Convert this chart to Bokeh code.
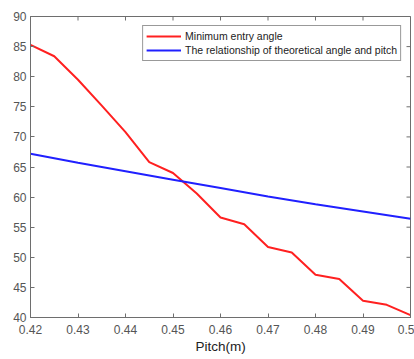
import math
from bokeh.plotting import figure
from bokeh.models import FixedTicker, Range1d, Legend, LegendItem
from bokeh.embed import file_html
from bokeh.resources import INLINE

# ---- data ----
pitch = [0.42, 0.425, 0.43, 0.435, 0.44, 0.445, 0.45, 0.455, 0.46, 0.465,
         0.47, 0.475, 0.48, 0.485, 0.49, 0.495, 0.50]
min_entry_angle = [85.3, 83.4, 79.5, 75.2, 70.8, 65.8, 64.0, 60.6, 56.6, 55.5,
                   51.7, 50.8, 47.1, 46.4, 42.8, 42.1, 40.4]
theory_pitch = [0.42, 0.43, 0.44, 0.45, 0.46, 0.47, 0.48, 0.49, 0.50]
theory_angle = [67.2, 65.7, 64.3, 62.9, 61.5, 60.1, 58.8, 57.6, 56.4]

x_ticks = [0.42, 0.43, 0.44, 0.45, 0.46, 0.47, 0.48, 0.49, 0.50]
x_tick_labels = ["0.42", "0.43", "0.44", "0.45", "0.46", "0.47", "0.48", "0.49", "0.5"]
y_ticks = [40, 45, 50, 55, 60, 65, 70, 75, 80, 85, 90]

label_red = "Minimum entry angle"
label_blue = "The relationship of theoretical angle and pitch"
x_label = "Pitch(m)"

FONT = "Liberation Sans"
AX = "#6e6e6e"
X0, X1 = x_ticks[0], x_ticks[-1]
Y0, Y1 = y_ticks[0], y_ticks[-1]

p = figure(width=414, height=359, output_backend="svg", toolbar_location=None,
           x_range=Range1d(X0, X1), y_range=Range1d(Y0, Y1),
           min_border_left=30, min_border_top=16, min_border_right=4,
           min_border_bottom=42)
p.background_fill_color = "white"
p.border_fill_color = "white"
p.outline_line_color = AX
p.outline_line_width = 1
p.xgrid.visible = False
p.ygrid.visible = False

r1 = p.line(pitch, min_entry_angle, line_color="#ff2020", line_width=2)
r2 = p.line(theory_pitch, theory_angle, line_color="#2020ff", line_width=2)

# inside tick marks on the top and right edges (box style)
p.scatter(x_ticks, [Y1] * len(x_ticks), marker="dash", angle=math.pi / 2,
          size=8, line_color=AX, line_width=1)
p.scatter([X1] * len(y_ticks), y_ticks, marker="dash",
          size=8, line_color=AX, line_width=1)

def style(ax, ticks):
    ax.ticker = FixedTicker(ticks=ticks)
    ax.axis_line_color = AX
    ax.major_tick_line_color = AX
    ax.major_tick_in = 4
    ax.major_tick_out = 0
    ax.minor_tick_line_color = None
    ax.major_label_text_font = FONT
    ax.major_label_text_color = "#555555"
    ax.major_label_text_font_size = "12px"

xa = p.xaxis[0]
style(xa, x_ticks)
xa.major_label_overrides = {t: l for t, l in zip(x_ticks, x_tick_labels)}
xa.major_label_standoff = 7
xa.axis_label = x_label
xa.axis_label_text_font = FONT
xa.axis_label_text_font_style = "normal"
xa.axis_label_text_font_size = "13.5px"
xa.axis_label_text_color = "#222222"
xa.axis_label_standoff = 2

ya = p.yaxis[0]
style(ya, y_ticks)
ya.major_label_standoff = 4

legend = Legend(items=[LegendItem(label=label_red, renderers=[r1]),
                       LegendItem(label=label_blue, renderers=[r2])],
                location="top_right")
legend.margin = 9
legend.padding = 3
legend.spacing = 0
legend.glyph_width = 35
legend.glyph_height = 14
legend.label_height = 14
legend.label_standoff = 4
legend.label_text_font = FONT
legend.label_text_font_size = "10.5px"
legend.label_text_color = "#222222"
legend.border_line_color = "#333333"
legend.border_line_width = 1
legend.background_fill_color = "white"
legend.background_fill_alpha = 1
p.add_layout(legend, "center")

open("out.html", "w").write(file_html(p, INLINE))
